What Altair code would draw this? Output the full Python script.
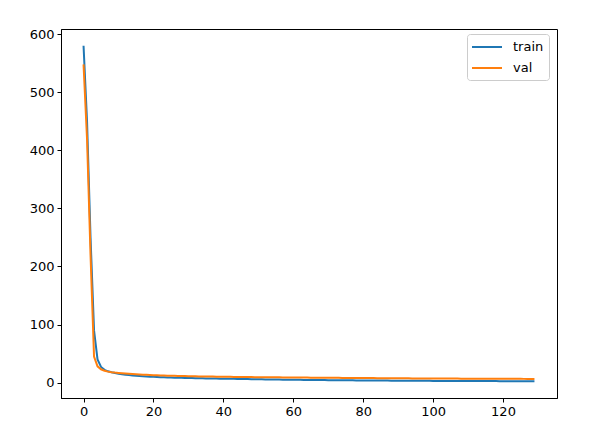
import altair as alt
import pandas as pd

train = [580, 450, 250, 90, 40, 27, 22, 19.5, 17.8, 16.5,
         15.4, 14.5, 13.7, 13.0, 12.4, 11.9, 11.4, 11.0, 10.6, 10.3,
         10.0, 9.7, 9.5, 9.2, 9.0, 8.8, 8.6, 8.4, 8.3, 8.1,
         8.0, 7.8, 7.7, 7.6, 7.5, 7.3, 7.2, 7.1, 7.0, 6.9,
         6.8, 6.7, 6.6, 6.5, 6.4, 6.3, 6.2, 6.1, 6.0, 5.9,
         5.8, 5.7, 5.6, 5.5, 5.4, 5.35, 5.25, 5.2, 5.1, 5.0,
         4.95, 4.9, 4.8, 4.75, 4.7, 4.6, 4.55, 4.5, 4.45, 4.4,
         4.3, 4.25, 4.2, 4.15, 4.1, 4.05, 4.0, 3.95, 3.9, 3.85,
         3.8, 3.75, 3.7, 3.65, 3.6, 3.6, 3.55, 3.5, 3.45, 3.4,
         3.4, 3.35, 3.3, 3.3, 3.25, 3.2, 3.2, 3.15, 3.1, 3.1,
         3.05, 3.0, 3.0, 2.95, 2.95, 2.9, 2.9, 2.85, 2.85, 2.8,
         2.8, 2.8, 2.75, 2.75, 2.7, 2.7, 2.7, 2.65, 2.65, 2.6,
         2.6, 2.6, 2.55, 2.55, 2.55, 2.5, 2.5, 2.5, 2.5, 2.45]

val = [548, 420, 220, 45, 28, 23, 20.5, 19.0, 18.0, 17.3,
       16.8, 16.2, 15.7, 15.2, 14.8, 14.4, 14.0, 13.7, 13.4, 13.1,
       12.8, 12.6, 12.4, 12.2, 12.0, 11.8, 11.7, 11.5, 11.4, 11.3,
       11.1, 11.0, 10.9, 10.8, 10.7, 10.6, 10.5, 10.4, 10.3, 10.2,
       10.1, 10.0, 9.95, 9.9, 9.8, 9.75, 9.7, 9.6, 9.55, 9.5,
       9.45, 9.4, 9.3, 9.25, 9.2, 9.15, 9.1, 9.05, 9.0, 8.95,
       8.9, 8.85, 8.8, 8.75, 8.7, 8.65, 8.6, 8.55, 8.5, 8.45,
       8.4, 8.35, 8.3, 8.25, 8.2, 8.15, 8.1, 8.05, 8.0, 7.95,
       7.9, 7.85, 7.8, 7.8, 7.75, 7.7, 7.65, 7.6, 7.6, 7.55,
       7.5, 7.45, 7.45, 7.4, 7.35, 7.3, 7.3, 7.25, 7.2, 7.2,
       7.15, 7.1, 7.1, 7.05, 7.0, 7.0, 6.95, 6.95, 6.9, 6.9,
       6.85, 6.85, 6.8, 6.8, 6.75, 6.75, 6.7, 6.7, 6.7, 6.65,
       6.65, 6.6, 6.6, 6.6, 6.55, 6.55, 6.5, 6.5, 6.5, 6.5]

x_ticks = [0, 20, 40, 60, 80, 100, 120]
y_ticks = [0, 100, 200, 300, 400, 500, 600]

rows = []
for i, v in enumerate(train):
    rows.append({"epoch": i, "loss": v, "series": "train"})
for i, v in enumerate(val):
    rows.append({"epoch": i, "loss": v, "series": "val"})
df = pd.DataFrame(rows)

n = len(train) - 1
xmin, xmax = -0.05 * n, n * 1.05
lo, hi = min(min(train), min(val)), max(max(train), max(val))
ymin, ymax = lo - 0.05 * (hi - lo), hi + 0.05 * (hi - lo)

chart = alt.Chart(df).mark_line(strokeWidth=2, clip=True).encode(
    x=alt.X("epoch:Q", scale=alt.Scale(domain=[xmin, xmax], nice=False, zero=False),
            axis=alt.Axis(values=x_ticks, title=None, grid=False, labelFlush=False)),
    y=alt.Y("loss:Q", scale=alt.Scale(domain=[ymin, ymax], nice=False, zero=False),
            axis=alt.Axis(values=y_ticks, title=None, grid=False, labelFlush=False)),
    color=alt.Color("series:N",
                    scale=alt.Scale(domain=["train", "val"], range=["#1f77b4", "#ff7f0e"]),
                    legend=alt.Legend(title=None, orient="none", legendX=406, legendY=5,
                                      symbolType="M-2.14,0L2.14,0", symbolSize=196,
                                      symbolStrokeWidth=2, symbolFillColor="transparent",
                                      symbolOffset=7, labelOffset=18,
                                      labelFontSize=13, labelFont="DejaVu Sans",
                                      strokeColor="#cccccc", fillColor="white",
                                      cornerRadius=3, padding=5, rowPadding=6,
                                      labelColor="black")),
).properties(
    width=496, height=369,
    padding={"left": 53, "top": 21, "right": 36, "bottom": 35},
    autosize=alt.AutoSizeParams(type="none"),
).configure_view(
    stroke="black", strokeWidth=1
).configure_axis(
    domainColor="black", tickColor="black", tickSize=4, labelFontSize=13,
    labelFont="DejaVu Sans", labelColor="black", labelPadding=3, domainWidth=1
)

chart.save("out.html", embed_options={"renderer": "svg", "actions": False})
